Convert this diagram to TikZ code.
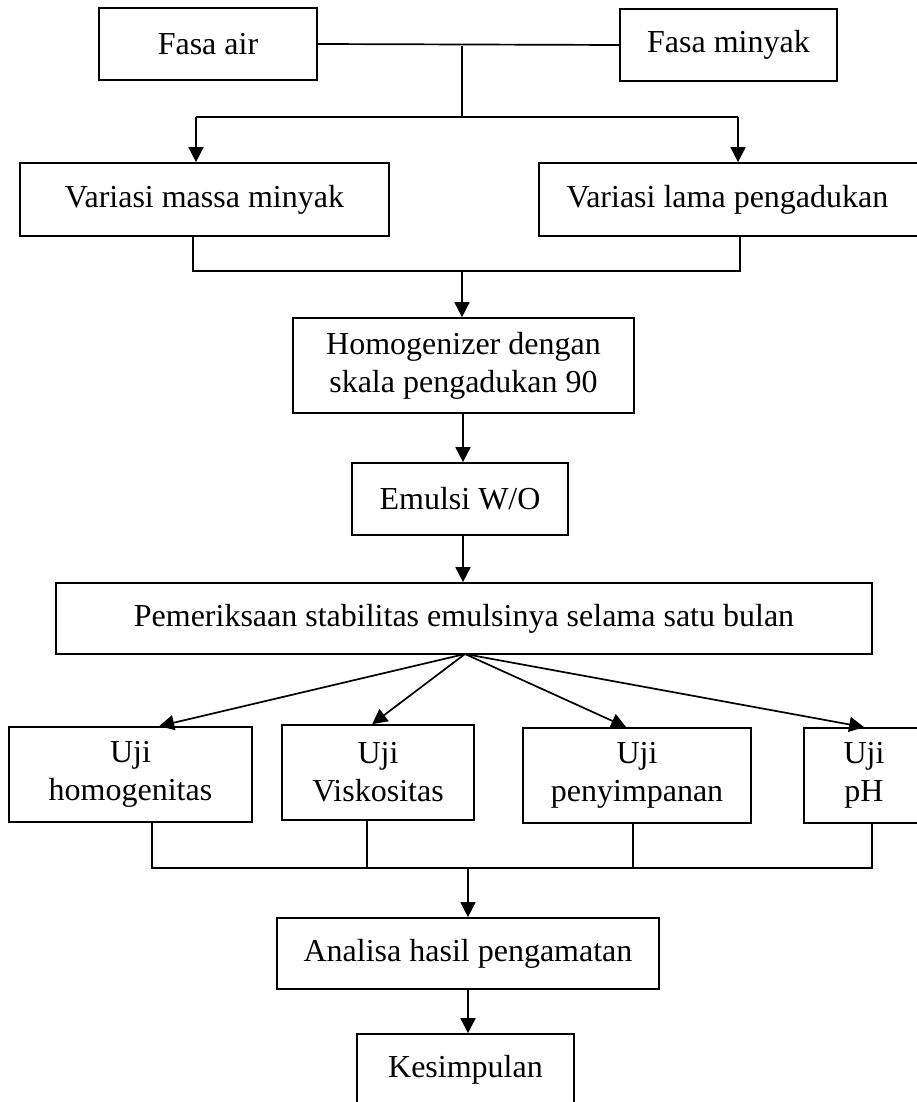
\documentclass[tikz,border=0pt]{standalone}
\usepackage{fontspec}
\setmainfont{Liberation Serif}
\usetikzlibrary{arrows.meta,calc}
\begin{document}
\begin{tikzpicture}[x=1pt,y=-1pt,
  box/.style={draw,line width=1.7pt,rectangle,inner sep=0pt,align=center,
    font=\fontsize{32}{38}\selectfont},
  ln/.style={line width=1.7pt},
  arr/.style={line width=1.7pt,-{Triangle[length=15pt,width=15pt]}}]
\useasboundingbox (0,0) rectangle (917,1102);
% nodes
\node[box,minimum width=218pt,minimum height=72pt] (fasaair) at (208,44) {Fasa air};
\node[box,minimum width=217pt,minimum height=72pt] (fasaminyak) at (728.5,45) {Fasa minyak};
\node[box,minimum width=369pt,minimum height=73pt] (vmassa) at (204.5,199.5) {Variasi massa minyak};
\node[box,minimum width=385pt,minimum height=73pt] (vlama) at (731.5,199.5) {\hspace*{-8pt}Variasi lama pengadukan};
\node[box,minimum width=341pt,minimum height=95pt] (homog) at (463.5,365.5) {Homogenizer dengan\\skala pengadukan 90};
\node[box,minimum width=216pt,minimum height=72pt] (emulsi) at (460,499) {Emulsi W/O};
\node[box,minimum width=816pt,minimum height=71pt] (periksa) at (464,618.5) {Pemeriksaan stabilitas emulsinya selama satu bulan};
\node[box,minimum width=243pt,minimum height=95pt] (ujihomo) at (130.5,774.5) {Uji\\homogenitas};
\node[box,minimum width=192pt,minimum height=95pt] (ujivisk) at (378,772.5) {Uji\\Viskositas};
\node[box,minimum width=228pt,minimum height=95pt] (ujipeny) at (637,775.5) {Uji\\penyimpanan};
\node[box,minimum width=120pt,minimum height=95pt] (ujiph) at (864,775.5) {Uji\\pH};
\node[box,minimum width=382pt,minimum height=71pt] (analisa) at (468,953.5) {Analisa hasil pengamatan};
\node[box,minimum width=217pt,minimum height=72pt] (kesimpulan) at (465.5,1070) {Kesimpulan};
% top connectors
\coordinate (j1) at (462,46);
\coordinate (j2) at (462,117);
\coordinate (l1) at (196,117);
\coordinate (r1) at (738,117);
\draw[ln] (fasaair.east) -- (fasaminyak.west);
\draw[ln] (j1) -- (j2);
\draw[ln] (l1) -- (r1);
\draw[arr] (l1) -- (l1 |- vmassa.north);
\draw[arr] (r1) -- (r1 |- vlama.north);
\coordinate (l2) at (193,271);
\coordinate (r2) at (740,271);
\coordinate (j3) at (462,271);
\draw[ln] (l2 |- vmassa.south) -- (l2) -- (r2) -- (r2 |- vlama.south);
\draw[arr] (j3) -- (j3 |- homog.north);
\coordinate (j4) at (463,413);
\draw[arr] (j4) -- (j4 |- emulsi.north);
\coordinate (j5) at (463,535);
\draw[arr] (j5) -- (j5 |- periksa.north);
% fan
\coordinate (fan) at (465,654);
\draw[arr] (fan) -- ([xshift=151pt]ujihomo.north west);
\draw[arr] (fan) -- ([xshift=91pt]ujivisk.north west);
\draw[arr] (fan) -- ([xshift=104pt]ujipeny.north west);
\draw[arr] (fan) -- ([xshift=61pt]ujiph.north west);
% bottom collector
\coordinate (b1) at (152,868);
\coordinate (b2) at (367,868);
\coordinate (b3) at (633,868);
\coordinate (b4) at (872,868);
\coordinate (j6) at (468,868);
\draw[ln] (b1 |- ujihomo.south) -- (b1) -- (b4) -- (b4 |- ujiph.south);
\draw[ln] (b2 |- ujivisk.south) -- (b2);
\draw[ln] (b3 |- ujipeny.south) -- (b3);
\draw[arr] (j6) -- (j6 |- analisa.north);
\coordinate (j7) at (468,989);
\draw[arr] (j7) -- (j7 |- kesimpulan.north);
\end{tikzpicture}
\end{document}
